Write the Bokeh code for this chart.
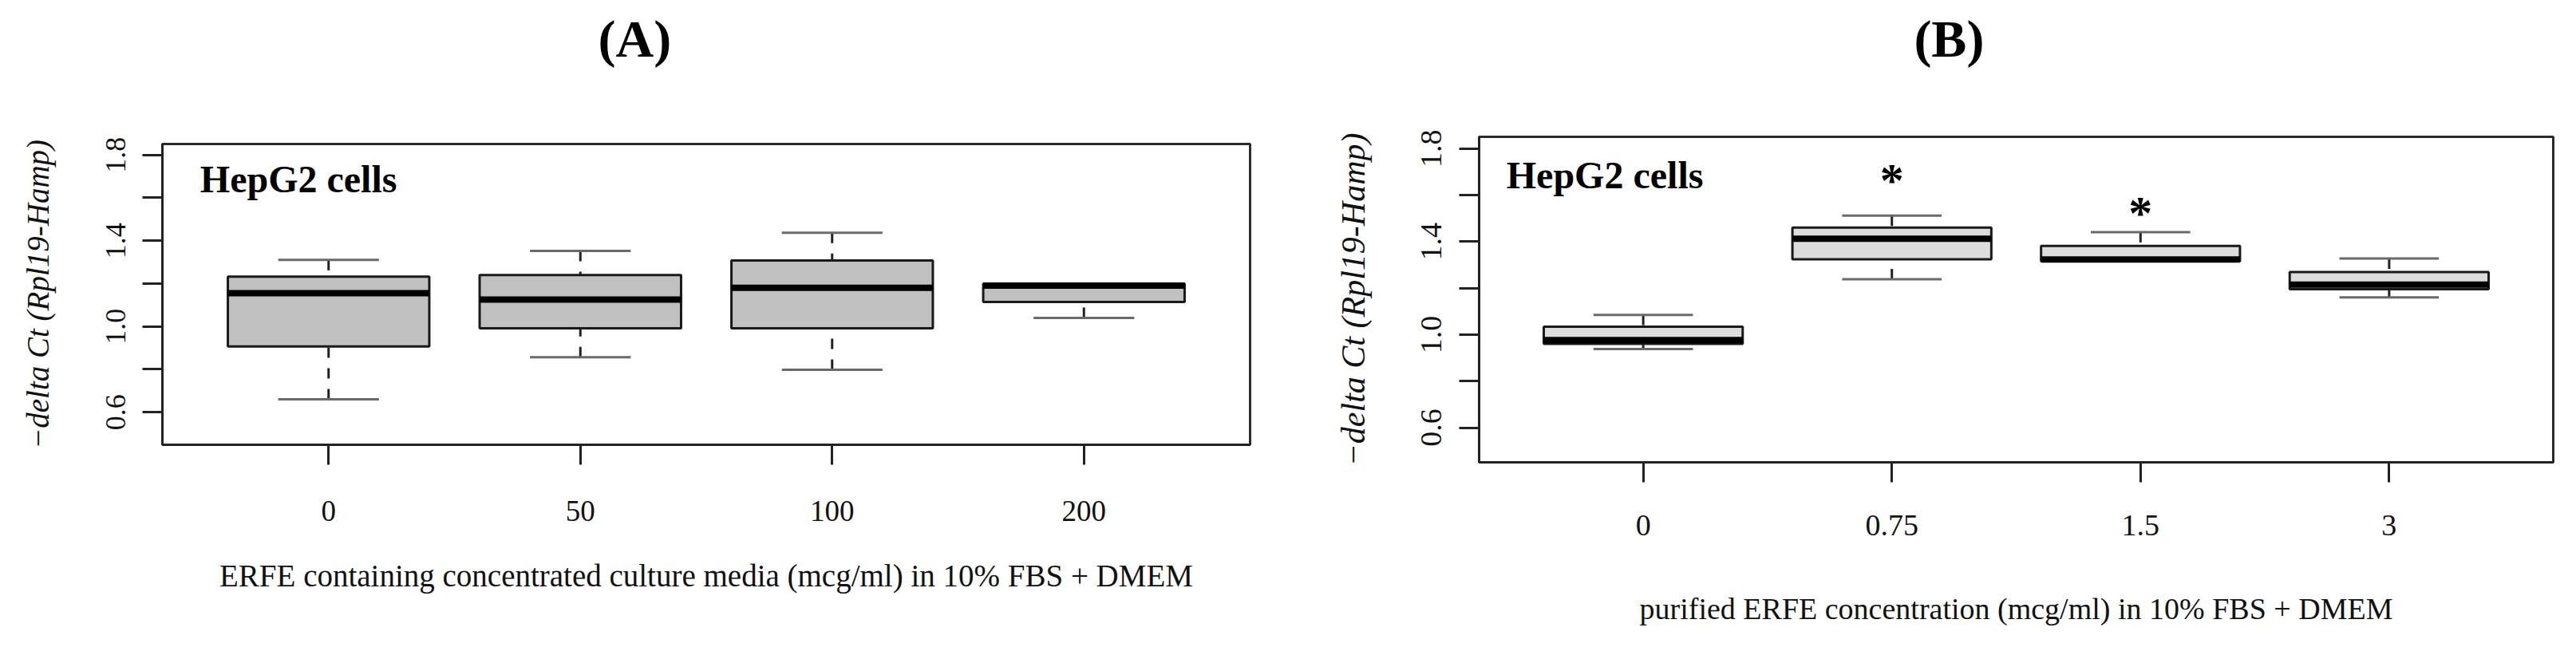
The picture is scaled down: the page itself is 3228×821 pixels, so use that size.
from bokeh.plotting import figure
from bokeh.models import Range1d, FixedTicker, PrintfTickFormatter, Label, ColumnDataSource
from bokeh.layouts import row, column
from bokeh.transform import dodge
from bokeh.embed import file_html
from bokeh.resources import INLINE
from bokeh.core.properties import value

FONT = "Liberation Serif"

# ---------------- data ----------------
# Panel A: ERFE containing concentrated culture media
a_groups = ["0", "50", "100", "200"]
a_lower = [0.660, 0.856, 0.798, 1.040]
a_q1 = [0.907, 0.991, 0.991, 1.114]
a_median = [1.155, 1.125, 1.180, 1.190]
a_q3 = [1.232, 1.240, 1.308, 1.200]
a_upper = [1.310, 1.352, 1.437, 1.200]

# Panel B: purified ERFE
b_groups = ["0", "0.75", "1.5", "3"]
b_lower = [0.938, 1.238, 1.315, 1.160]
b_q1 = [0.960, 1.324, 1.315, 1.195]
b_median = [0.977, 1.412, 1.323, 1.215]
b_q3 = [1.034, 1.460, 1.381, 1.269]
b_upper = [1.085, 1.512, 1.441, 1.327]

# significance marks (panel B)
b_star_groups = ["0.75", "1.5"]
b_star_y = [1.662, 1.522]

y_major_ticks = [0.6, 1.0, 1.4, 1.8]
y_minor_ticks = [0.8, 1.2, 1.6]

y_title = "\u2212delta Ct (Rpl19-Hamp)"
a_xlabel = "ERFE containing concentrated culture media (mcg/ml) in 10% FBS + DMEM"
b_xlabel = "purified ERFE concentration (mcg/ml) in 10% FBS + DMEM"

TOTAL_H = 805
TITLE_H = 110


def title_fig(width, bl, br, xr, text, tx, ty):
    t = figure(width=width, height=TITLE_H, x_range=xr, y_range=Range1d(0, 1),
               output_backend="svg", toolbar_location=None,
               x_axis_location=None, y_axis_location=None,
               min_border_left=bl, min_border_right=br,
               min_border_top=0, min_border_bottom=0, frame_align=False)
    t.grid.visible = False
    t.outline_line_color = None
    t.background_fill_color = "white"
    t.border_fill_color = "white"
    t.text(x=[tx], y=[ty], text=[text], text_font=value(FONT),
           text_font_style="bold", text_font_size="66px",
           text_align="center", text_baseline="middle", text_color="black")
    return t


def make_panel(groups, lo, q1, med, q3, hi, fill, width, borders, ylim,
               fs, hep_xy, xlabel, stds):
    n = len(groups)
    xs = list(range(1, n + 1))
    src = ColumnDataSource(dict(x=xs, lo=lo, q1=q1, med=med, q3=q3, hi=hi))
    bl, br, bt, bb = borders
    p = figure(width=width, height=TOTAL_H - TITLE_H,
               x_range=Range1d(0.34, n + 0.66), y_range=Range1d(*ylim),
               output_backend="svg", toolbar_location=None,
               min_border_left=bl, min_border_right=br,
               min_border_top=bt, min_border_bottom=bb, frame_align=False)
    p.xgrid.visible = False
    p.ygrid.visible = False
    p.outline_line_color = "#2b2b2b"
    p.outline_line_width = 3
    p.background_fill_color = "white"
    p.border_fill_color = "white"

    # whiskers (dashed, drawn from the cap towards the box)
    for a, b in (("lo", "q1"), ("hi", "q3")):
        p.segment(x0="x", y0=a, x1="x", y1=b, source=src,
                  line_color="#222222", line_width=3, line_dash="13 13",
                  line_cap="butt")
        p.segment(x0=dodge("x", -0.2), y0=a, x1=dodge("x", 0.2), y1=a,
                  source=src, line_color="#6a6a6a", line_width=3,
                  line_cap="butt")
    # boxes
    p.vbar(x="x", width=0.8, bottom="q1", top="q3", source=src,
           fill_color=fill, line_color="#1a1a1a", line_width=3)
    # medians
    p.segment(x0=dodge("x", -0.4), y0="med", x1=dodge("x", 0.4), y1="med",
              source=src, line_color="black", line_width=8, line_cap="butt")

    # x axis
    xa = p.xaxis[0]
    xa.ticker = FixedTicker(ticks=xs)
    xa.major_label_overrides = {i + 1: g for i, g in enumerate(groups)}
    xa.major_tick_out = 25
    xa.major_tick_in = 0
    xa.minor_tick_out = 0
    xa.minor_tick_in = 0
    xa.major_tick_line_width = 3
    xa.major_tick_line_color = "#222222"
    xa.axis_line_width = 3
    xa.axis_line_color = "#222222"
    xa.major_label_text_font = FONT
    xa.major_label_text_font_size = f"{fs['xt']}px"
    xa.major_label_text_color = "#111111"
    xa.major_label_standoff = stds["xt"]
    xa.axis_label = xlabel
    xa.axis_label_text_font = FONT
    xa.axis_label_text_font_style = "normal"
    xa.axis_label_text_font_size = f"{fs['xl']}px"
    xa.axis_label_text_color = "#111111"
    xa.axis_label_standoff = stds["xl"]

    # y axis
    ya = p.yaxis[0]
    ya.ticker = FixedTicker(ticks=y_major_ticks, minor_ticks=y_minor_ticks)
    ya.formatter = PrintfTickFormatter(format="%.1f")
    ya.major_label_orientation = "vertical"
    ya.major_tick_out = 25
    ya.major_tick_in = 0
    ya.minor_tick_out = 25
    ya.minor_tick_in = 0
    ya.major_tick_line_width = 3
    ya.minor_tick_line_width = 3
    ya.major_tick_line_color = "#222222"
    ya.minor_tick_line_color = "#222222"
    ya.axis_line_width = 3
    ya.axis_line_color = "#222222"
    ya.major_label_text_font = FONT
    ya.major_label_text_font_size = f"{fs['yt']}px"
    ya.major_label_text_color = "#111111"
    ya.major_label_standoff = stds["yt"]
    ya.axis_label = y_title
    ya.axis_label_text_font = FONT
    ya.axis_label_text_font_style = "italic"
    ya.axis_label_text_font_size = f"{fs['yl']}px"
    ya.axis_label_text_color = "#111111"
    ya.axis_label_standoff = stds["yl"]

    p.add_layout(Label(x=hep_xy[0], y=hep_xy[1], text="HepG2 cells",
                       text_font=FONT, text_font_style="bold",
                       text_font_size=f"{fs['hep']}px", text_align="left",
                       text_baseline="middle", text_color="black"))
    return p


pa = make_panel(a_groups, a_lower, a_q1, a_median, a_q3, a_upper,
                "#c0c0c0", 1612, (203, 46, 180 - TITLE_H, 248),
                (0.448, 1.851),
                dict(xt=37, xl=39, yt=36, yl=39, hep=48),
                (0.49, 1.688), a_xlabel,
                dict(xt=45, xl=44, yt=21, yl=62))

pb = make_panel(b_groups, b_lower, b_q1, b_median, b_q3, b_upper,
                "#dcdcdc", 1600, (241, 13, 171 - TITLE_H, 226),
                (0.451, 1.8505),
                dict(xt=38, xl=38, yt=38, yl=42, hep=48),
                (0.45, 1.687), b_xlabel,
                dict(xt=41, xl=68, yt=22, yl=60))

star_x = [b_groups.index(g) + 1 for g in b_star_groups]
pb.text(x=star_x, y=b_star_y, text=["*"] * len(star_x),
        text_font=value(FONT), text_font_style="bold",
        text_font_size="60px", text_align="center",
        text_baseline="middle", text_color="black")

ta = title_fig(1612, 203, 46, pa.x_range, "(A)", 2.216, 0.564)
tb = title_fig(1600, 241, 13, pb.x_range, "(B)", 2.23, 0.564)

layout = row(column(ta, pa), column(tb, pb))
open("out.html", "w").write(file_html(layout, INLINE))
